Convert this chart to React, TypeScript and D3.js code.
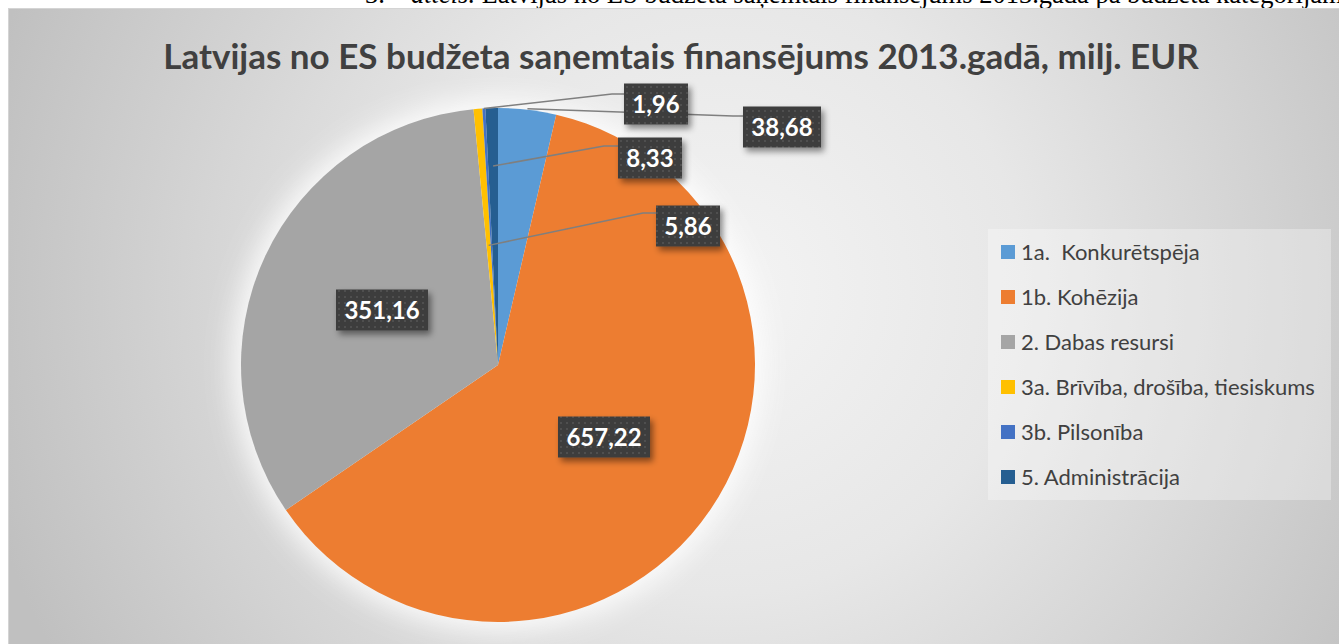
import React from 'react';
import * as d3 from 'd3';

const categories = ['1a.  Konkurētspēja', '1b. Kohēzija', '2. Dabas resursi', '3a. Brīvība, drošība, tiesiskums', '3b. Pilsonība', '5. Administrācija'];
const values = [38.68, 657.22, 351.16, 5.86, 1.96, 8.33];
const valueLabels = ['38,68', '657,22', '351,16', '5,86', '1,96', '8,33'];
const colors = ['#5B9BD5', '#ED7D31', '#A5A5A5', '#FFC000', '#4472C4', '#255E91'];
const titleText = 'Latvijas no ES budžeta saņemtais finansējums 2013.gadā, milj. EUR';

// label layout (annotation positions, manually placed like the source)
const labelLayout = [
  { x: 782, y: 127, leaderR: 258, elbow: [733, 116] },
  { x: 604, y: 437 },
  { x: 382, y: 310 },
  { x: 688, y: 226, leaderR: 120, elbow: [643, 213] },
  { x: 656, y: 104, leaderR: 257, elbow: [612, 94] },
  { x: 650, y: 158, leaderR: 199, elbow: [604, 146] },
];

const W = 1339, H = 644;
const CX = 498, CY = 365, R = 257;

export default function App() {
  const pie = d3.pie<number>().sort(null).value((d) => d);
  const arcs = pie(values);
  const arc = d3.arc<d3.PieArcDatum<number>>().innerRadius(0).outerRadius(R);
  const font = 'Lato, "Open Sans", sans-serif';
  const pt = (a: number, r: number) => [CX + r * Math.sin(a), CY - r * Math.cos(a)];
  const legendY = d3.scalePoint<string>().domain(categories).range([252, 477]);

  return (
    <svg width={W} height={H} style={{ position: 'absolute', left: 0, top: 0, display: 'block' }}>
      <defs>
        <radialGradient id="bg" gradientUnits="userSpaceOnUse" cx={720} cy={290} r={760}>
          <stop offset="0" stopColor="#f4f4f4" />
          <stop offset="0.4" stopColor="#e7e7e7" />
          <stop offset="1" stopColor="#c0c0c0" />
        </radialGradient>
        <pattern id="dots" width="6" height="6" patternUnits="userSpaceOnUse">
          <rect width="6" height="6" fill="#3d3d3d" />
          <rect x="2" y="2" width="2" height="2" fill="#4f4f4f" />
        </pattern>
        <filter id="shadow" x="-30%" y="-30%" width="160%" height="160%">
          <feDropShadow dx="3" dy="4" stdDeviation="3" floodColor="#000" floodOpacity="0.45" />
        </filter>
        <filter id="glow" x="-30%" y="-30%" width="160%" height="160%">
          <feGaussianBlur stdDeviation="14" />
        </filter>
      </defs>
      <rect x={0} y={0} width={W} height={H} fill="#fff" />
      <text x={365} y={3} fontFamily='"Liberation Serif", "Times New Roman", serif' fontSize={26.5} fill="#000" style={{ whiteSpace: 'pre' }}>
        <tspan>3.</tspan>
        <tspan x={411} fontStyle="italic">attēls.</tspan>
        <tspan> Latvijas no ES budžeta saņemtais finansējums 2013.gadā pa budžeta kategorijām</tspan>
      </text>
      <rect x={8.5} y={8.5} width={W + 20} height={H + 20} fill="url(#bg)" stroke="#d4d4d4" strokeWidth={1} />
      <text x={681} y={69} textAnchor="middle" fontFamily={font} fontWeight={700} fontSize={35} fill="#404040">
        {titleText}
      </text>
      <circle cx={CX} cy={CY} r={R + 8} fill="#ffffff" opacity={0.9} filter="url(#glow)" />
      <g transform={`translate(${CX},${CY})`}>
        {arcs.map((a, i) => (
          <path key={i} d={arc(a) || ''} fill={colors[i]} />
        ))}
      </g>
      {arcs.map((a, i) => {
        const L = labelLayout[i];
        if (!L.leaderR) return null;
        const mid = (a.startAngle + a.endAngle) / 2;
        const [sx, sy] = pt(mid, L.leaderR);
        const w = 14 * valueLabels[i].length + 8;
        const ex = L.x - w / 2;
        return (
          <polyline key={'l' + i} points={`${sx},${sy} ${L.elbow![0]},${L.elbow![1]} ${ex},${L.elbow![1]}`} fill="none" stroke="#7f7f7f" strokeWidth={1.5} />
        );
      })}
      {arcs.map((a, i) => {
        const L = labelLayout[i];
        const w = 14 * valueLabels[i].length + 8;
        const h = 41;
        return (
          <g key={'b' + i}>
            <rect x={L.x - w / 2} y={L.y - h / 2} width={w} height={h} fill="url(#dots)" filter="url(#shadow)" />
            <text x={L.x} y={L.y + 8.5} textAnchor="middle" fontFamily={font} fontWeight={700} fontSize={24} fill="#fff">
              {valueLabels[i]}
            </text>
          </g>
        );
      })}
      <rect x={988} y={229} width={343} height={271} fill="#ffffff" opacity={0.3} />
      {categories.map((c, i) => (
        <g key={'g' + i}>
          <rect x={1001} y={legendY(c)! - 7} width={14} height={14} fill={colors[i]} />
          <text x={1021} y={legendY(c)! + 7.5} fontFamily={font} fontSize={22} fill="#404040" style={{ whiteSpace: 'pre' }}>
            {c}
          </text>
        </g>
      ))}
    </svg>
  );
}
